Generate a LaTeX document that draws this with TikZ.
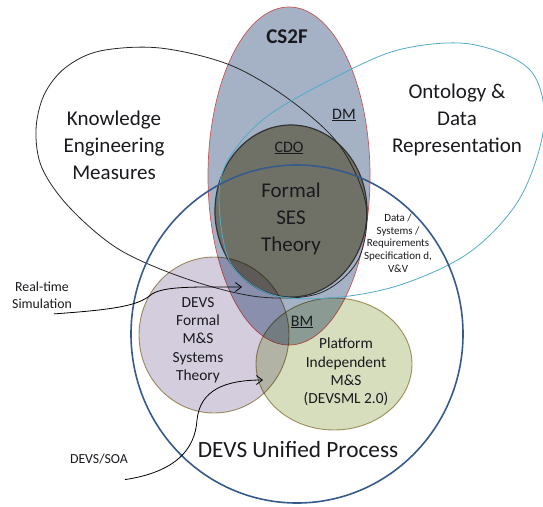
\documentclass[tikz,border=0pt]{standalone}
\usepackage{fontspec}
\setmainfont{Carlito}
\usetikzlibrary{arrows.meta}
\definecolor{csfill}{RGB}{165,178,198}
\definecolor{csline}{RGB}{200,85,85}
\definecolor{cdofill}{RGB}{112,113,102}
\definecolor{devsfill}{RGB}{212,205,222}
\definecolor{platfill}{RGB}{215,222,190}
\definecolor{tanline}{RGB}{170,155,105}
\definecolor{ontoline}{RGB}{80,170,200}
\definecolor{dupline}{RGB}{55,90,140}
\definecolor{ink}{RGB}{25,25,30}
\tikzstyle{pointer} = [line width=0.8pt,->,>={Straight Barb[length=6pt,width=9pt]}]
\tikzstyle{big} = [align=center,text=ink,font=\fontsize{21}{27}\selectfont]
\tikzstyle{mid} = [align=center,text=ink,font=\fontsize{15.4}{18.3}\selectfont]
\tikzstyle{small} = [align=center,text=ink,font=\fontsize{13.8}{17}\selectfont]
\tikzstyle{tiny} = [align=center,text=ink,font=\fontsize{11}{12.7}\selectfont]
\tikzstyle{tag} = [text=ink,font=\fontsize{16}{18}\selectfont]

\begin{document}
\begin{tikzpicture}[x=1pt,y=-1pt]
        \useasboundingbox (0,0) rectangle (543,506);
        \clip (0,0) rectangle (543,506);
        % filled sets
        \fill[csfill] (289,176) ellipse [x radius=81pt, y radius=169pt];
        \draw[csline,line width=0.7pt] (289,176) ellipse [x radius=81pt, y radius=169pt];
        \filldraw[fill=cdofill,draw=black!80,line width=1.2pt] (291,211) ellipse [x radius=76pt, y radius=86pt];
        \begin{scope}[blend mode=multiply]
            \filldraw[fill=devsfill,draw=tanline,line width=0.9pt] (214,335) ellipse [x radius=75pt, y radius=78pt];
            \filldraw[fill=platfill,draw=tanline,line width=0.9pt] (334,364) ellipse [x radius=78pt, y radius=66pt];
        \end{scope}
        % outlines
        \draw[black!85,line width=0.8pt] plot[smooth cycle,tension=0.55] coordinates {(36,130) (44,95) (65,68) (100,51) (160,48) (230,65) (290,100) (340,146) (366,205) (358,260) (320,293) (260,297) (190,280) (120,250) (70,208) (42,168)};
        \draw[ontoline,line width=0.8pt] plot[smooth cycle,tension=0.55] coordinates {(219,200) (230,262) (270,294) (330,298) (400,285) (470,252) (520,198) (544,125) (530,70) (470,44) (398,50) (330,80) (265,118) (228,160)};
        \draw[dupline,line width=1.6pt] (297,334) ellipse [x radius=166pt, y radius=169pt];
        % labels
        \node (cs) at (287,37) [text=ink,font=\fontsize{21}{24}\selectfont\bfseries] {CS2F};
        \node (dm) at (344,115) [tag] {\underline{DM}};
        \node (cdo) at (289,148) [tag] {\underline{CDO}};
        \node (ses) at (291,219) [big] {Formal\\SES\\Theory};
        \node (know) at (114,145) [big] {Knowledge\\Engineering\\Measures};
        \node (onto) at (457,120) [big] {Ontology \&\\Data\\Representation};
        \node (dsr) at (398,243) [tiny] {Data /\\Systems /\\Requirements\\Specification d,\\V\&V};
        \node (rt) at (42,295) [small] {Real-time\\Simulation};
        \node (devs) at (198,340) [mid] {DEVS\\Formal\\M\&S\\Systems\\Theory};
        \node (bm) at (302,322) [tag] {\underline{BM}};
        \node (plat) at (346,372) [mid] {Platform\\Independent\\M\&S\\(DEVSML 2.0)};
        \node (dup) at (298,449) [text=ink,font=\fontsize{23.3}{27}\selectfont] {DEVS Unified Process};
        \node (soa) at (99,459) [small] {DEVS/SOA};
        % arrows
        \coordinate (rttip) at (242,287);
        \coordinate (soatip) at (263,380);
        \draw[pointer] ([xshift=12pt,yshift=-2pt]rt.south) .. controls (125,309) and (140,304) .. (152,294) .. controls (165,286) and (195,287) .. (rttip);
        \draw[pointer] ([xshift=26pt,yshift=-12pt]soa.south) .. controls (175,472) and (195,450) .. (197,420) .. controls (200,390) and (225,380) .. (soatip);
    \end{tikzpicture}
\end{document}
